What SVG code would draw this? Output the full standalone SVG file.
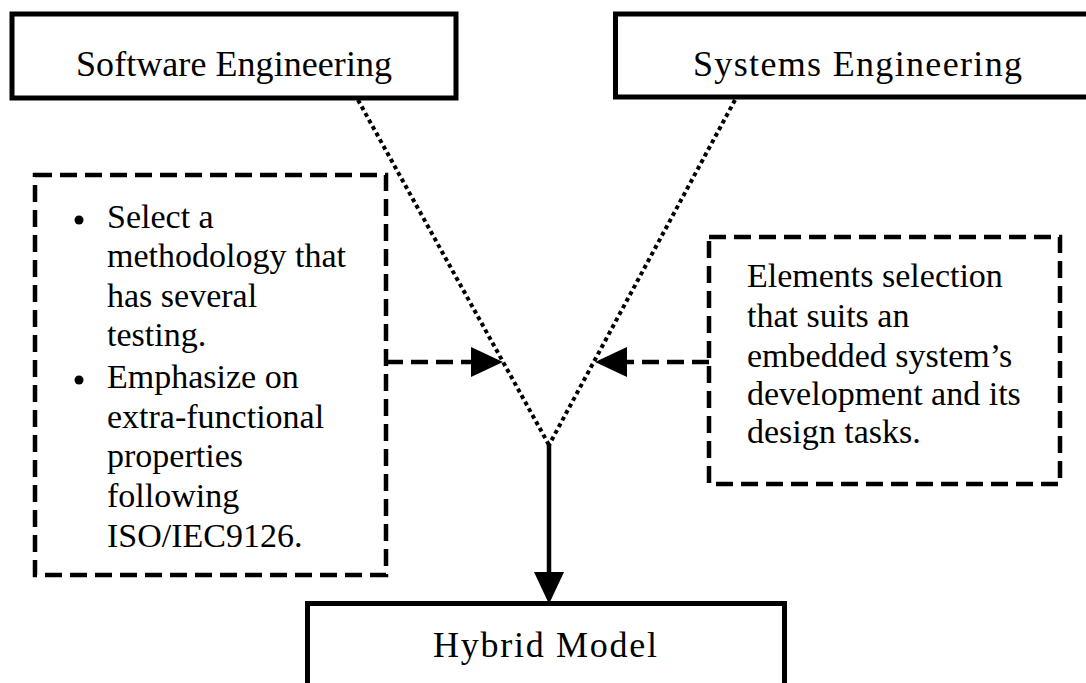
<svg xmlns="http://www.w3.org/2000/svg" width="1086" height="683" viewBox="0 0 1086 683">
<defs>
<style>
.box{fill:#fff;stroke:#000;stroke-width:5}
.note{fill:none;stroke:#000;stroke-width:4.5;stroke-dasharray:17 8}
.title{font-family:"Liberation Serif","Times New Roman",serif;font-size:36px;fill:#000}
.body{font-family:"Liberation Serif","Times New Roman",serif;font-size:34px;fill:#000}
.dot{fill:none;stroke:#000;stroke-width:4;stroke-dasharray:4 3.5}
.dash{fill:none;stroke:#000;stroke-width:4.5;stroke-dasharray:17 8}
.solid{fill:none;stroke:#000;stroke-width:4.5}
</style>
<marker id="ah" markerUnits="userSpaceOnUse" markerWidth="32" markerHeight="30" refX="0" refY="15" orient="auto" viewBox="0 0 32 30">
<path d="M0,0 L32,15 L0,30 z" fill="#000"/>
</marker>
</defs>
<rect width="1086" height="683" fill="#fff"/>
<g id="software-engineering">
<rect class="box" x="12" y="14" width="444" height="84"/>
<text class="title" x="234" y="76" text-anchor="middle" textLength="316" lengthAdjust="spacing">Software Engineering</text>
</g>
<g id="systems-engineering">
<rect class="box" x="615.5" y="14" width="500" height="83"/>
<text class="title" x="693" y="76" textLength="329" lengthAdjust="spacing">Systems Engineering</text>
</g>
<g id="hybrid-model">
<rect class="box" x="307.5" y="603.5" width="477" height="120"/>
<text class="title" x="433" y="657" textLength="224" lengthAdjust="spacing">Hybrid Model</text>
</g>
<g id="software-notes">
<rect class="note" x="35" y="175" width="351" height="400"/>
<circle cx="79" cy="220" r="4.5" fill="#000"/>
<circle cx="79" cy="380" r="4.5" fill="#000"/>
<text class="body">
<tspan x="107" y="228">Select a</tspan>
<tspan x="107" y="267">methodology that</tspan>
<tspan x="107" y="307">has several</tspan>
<tspan x="107" y="346">testing.</tspan>
<tspan x="107" y="388">Emphasize on</tspan>
<tspan x="107" y="428">extra-functional</tspan>
<tspan x="107" y="467">properties</tspan>
<tspan x="107" y="507">following</tspan>
<tspan x="107" y="547">ISO/IEC9126.</tspan>
</text>
</g>
<g id="systems-notes">
<rect class="note" x="709" y="237" width="351" height="247"/>
<text class="body">
<tspan x="747" y="287">Elements selection</tspan>
<tspan x="747" y="327">that suits an</tspan>
<tspan x="747" y="367">embedded system’s</tspan>
<tspan x="747" y="405">development and its</tspan>
<tspan x="747" y="443">design tasks.</tspan>
</text>
</g>
<g id="connectors">
<line class="dot" x1="358" y1="100" x2="549" y2="445"/>
<line class="dot" x1="735" y1="100" x2="549" y2="445"/>
<line class="solid" x1="549" y1="445" x2="549" y2="572" marker-end="url(#ah)"/>
<line class="dash" x1="386" y1="362" x2="471" y2="362" marker-end="url(#ah)"/>
<line class="dash" x1="709" y1="362" x2="627" y2="362" marker-end="url(#ah)"/>
</g>
</svg>
